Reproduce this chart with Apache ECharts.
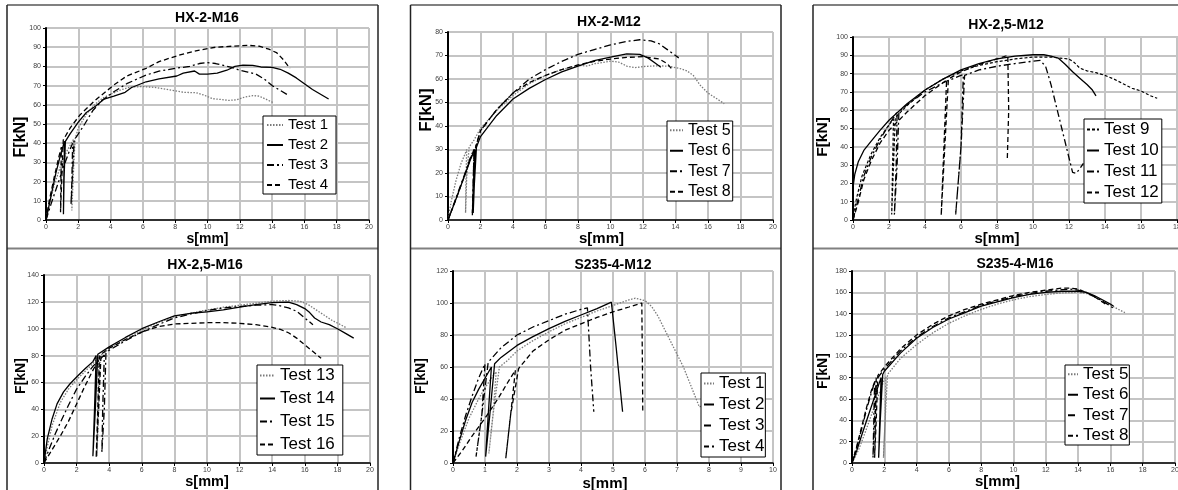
<!DOCTYPE html>
<html>
<head>
<meta charset="utf-8">
<title>Load-slip curves</title>
<script src="https://cdn.jsdelivr.net/npm/echarts@6/dist/echarts.min.js"></script>
<style>
  html, body { margin: 0; padding: 0; background: #fff; }
  #main { width: 1178px; height: 490px; }
</style>
</head>
<body>
<div id="main"></div>
<script>
// ---- data: [s (mm), F (kN)] ----
// HX-2-M16
var hx2m16_t1 = [[0,0],[0.2,8],[0.5,18],[0.9,28],[1.3,36],[1.7,42],[1.65,20],[1.6,5],[1.7,25],[1.8,42],[2,48],[2.5,55],[3,60],[3.5,63.5],[4,65.5],[4.6,67.7],[5.2,69.2],[6,69.5],[6.8,69],[7.5,68],[8,67.3],[8.5,66.5],[9.3,66.3],[9.8,65],[10.3,63.2],[10.8,62.8],[11.3,62.3],[11.8,62.6],[12.3,64],[12.8,64.8],[13.2,64.5],[13.6,63],[14.1,61]];
var hx2m16_t2 = [[0,0],[0.3,12],[0.6,24],[0.9,34],[1.15,41],[1.1,20],[1.08,3],[1.12,22],[1.2,41],[1.5,45],[2,51],[2.5,56],[3.1,59.5],[3.6,63],[4.2,64.5],[4.9,66.5],[5.3,69],[6.2,72],[7,73.5],[8.1,75],[8.5,76.5],[9.2,77.6],[9.5,76],[10,76],[10.6,76.5],[11.2,78],[11.7,80],[12.2,80.7],[12.8,80.5],[13.3,79.7],[14,79.5],[14.5,78.5],[15,76.5],[15.5,74],[16,71],[16.5,68],[17,65.5],[17.5,63]];
var hx2m16_t3 = [[0,0],[0.3,8],[0.7,18],[1.1,28],[1.45,36],[1.65,40],[1.6,20],[1.55,8],[1.65,25],[1.75,42],[1.9,43.5],[2.4,50],[2.9,57],[3.5,62.5],[4.2,66.8],[5,71],[6.2,75.5],[7,77.5],[8,79],[8.9,80],[9.5,81.5],[10,82],[10.5,81.5],[11,80.5],[11.5,79.5],[12,78],[12.5,77],[13,76],[13.5,73.5],[14,70],[14.5,67.5],[15,65]];
var hx2m16_t4 = [[0,0],[0.2,10],[0.5,22],[0.8,33],[0.95,38],[0.92,18],[0.9,4],[0.97,20],[1.07,41.7],[1.5,48],[2.1,54.7],[3,62],[4.2,70.3],[5,75],[6.2,79],[7,82.5],[8.3,86],[9.5,88.5],[10.5,90],[11.5,90.5],[12.5,91],[13.2,90.5],[13.8,89],[14.3,87],[14.7,83.5],[15.1,79]];
// HX-2-M12
var hx2m12_t5 = [[0,0],[0.2,8],[0.5,17],[0.8,24],[1.1,29],[1.15,30],[1.1,15],[1.08,3],[1.15,18],[1.3,31],[1.6,34],[2,39],[3,46.5],[4,53],[5,58],[6,61.5],[7,64],[8,65.8],[8.6,65.5],[9,66.5],[9.5,67],[10,67.6],[10.5,67.2],[11,65.5],[11.5,64.8],[12,65.3],[12.8,65.6],[13.5,65.5],[14.2,64.6],[14.7,63.5],[15.1,61.5],[15.5,57.5],[16,54],[16.5,51.8],[17,49.5]];
var hx2m12_t6 = [[0,0],[0.5,9],[1,18.5],[1.4,26],[1.65,30],[1.6,15],[1.55,3],[1.62,15],[1.75,31],[2,35.5],[3,44.5],[4,51.5],[5,56],[6,59.8],[7,63],[8,65.5],[9,67.8],[10,69.3],[11,70.7],[11.8,70.5],[12.3,69],[12.7,67],[13.1,65]];
var hx2m12_t7 = [[0,0],[0.5,9.5],[1,19],[1.4,27],[1.6,30],[1.55,15],[1.5,3],[1.57,15],[1.7,31],[2,38],[3,47],[4,54],[5,60],[6,64],[7,67.5],[8,70.5],[9,72.5],[10,74.5],[11,76],[11.8,76.7],[12.5,76.2],[13,75],[13.5,72.5],[14.2,69]];
var hx2m12_t8 = [[0,0],[0.5,9],[1,18.5],[1.4,26.5],[1.6,30],[1.55,15],[1.5,2],[1.56,15],[1.7,31],[2,38],[3,47],[4,54],[5,58.5],[6,61.5],[7,64],[8,66],[9,67.5],[10,68.5],[11,69.2],[12,69.5],[13,68.5],[13.5,66.5],[13.8,64]];
// HX-2,5-M12
var hx25m12_t9 = [[0,2],[0.2,12],[0.5,24],[1,36],[1.5,45],[2,52],[2.25,55],[2.2,30],[2.15,3],[2.25,30],[2.35,56],[3,62.5],[4,71],[5,77],[6,81.5],[7,84.5],[8,86.5],[9,88],[10,89],[11,89],[11.5,88.5],[12,88],[12.3,86],[12.6,83],[13,81.5],[13.5,80.5],[14,79],[14.5,77],[15,74.5],[15.5,72],[16,70.5],[16.5,68],[16.9,66.5]];
var hx25m12_t10 = [[0,18],[0.1,25],[0.3,32],[0.6,38],[1,43],[1.5,49],[2,54.5],[3,63.5],[4,71],[5,77],[6,82],[7,85.5],[8,88],[9,89.5],[10,90.3],[10.6,90.3],[11,89.5],[11.4,88.5],[11.8,85],[12.2,81],[12.6,77.5],[13,74],[13.3,71],[13.5,67.8]];
var hx25m12_t11 = [[0,0],[0.3,12],[0.6,24],[1,34],[1.5,44],[2,52],[2.45,59],[2.4,30],[2.3,3],[2.45,30],[2.55,59],[3,63],[4,70],[5,75],[6,79],[6.13,79.5],[6,40],[5.7,2.5],[6,40],[6.2,79],[7,82],[8,84],[9,85.5],[10,86.8],[10.4,87.2],[10.7,84],[11,74],[11.3,62],[11.6,50],[11.9,38],[12.2,26],[12.4,25.5],[12.6,28],[12.8,31]];
var hx25m12_t12 = [[0,0],[0.3,10],[0.6,22],[1,32],[1.5,42],[2,49],[3,59],[4,68],[5,75],[5.2,76.5],[5.05,40],[4.9,2.5],[5.1,40],[5.3,77],[6,81],[7,85],[8,88],[8.3,89],[8.6,90],[8.7,89.5],[8.65,60],[8.57,32.5]];
// HX-2,5-M16
var hx25m16_t13 = [[0,0],[0.2,12],[0.5,28],[1,45],[1.5,55],[2,62],[2.5,68],[3,74],[3.35,79],[3.3,40],[3.25,5],[3.35,40],[3.45,80],[4,85],[5,92],[6,99],[7,104.5],[8,109],[9,111.5],[10,114],[11,116],[12,117.5],[13,119],[14,120.5],[15,121],[15.7,120.5],[16.2,118],[16.7,114],[17.2,110],[17.7,106],[18.2,103],[18.5,101]];
var hx25m16_t14 = [[0,0],[0.2,18],[0.5,33],[0.8,44],[1.2,53],[1.6,59],[2,64],[2.5,70],[3,75.5],[3.2,80],[3.1,40],[3,5],[3.15,40],[3.3,81],[4,86.5],[5,93.5],[6,100],[7,105],[8,109.5],[9,111.5],[10,112.5],[11,114],[12,116],[13,118],[14,119.5],[15,119.8],[15.5,118],[16,115],[16.3,112],[16.6,108],[17,105],[17.5,103],[18,100],[18.5,96.5],[19,93]];
var hx25m16_t15 = [[0,0],[0.3,10],[0.7,22],[1,30],[1.5,43],[2,55],[2.5,64],[3,72],[3.5,78],[3.7,80.5],[3.6,40],[3.55,8],[3.7,40],[3.8,82],[4,84],[5,91],[6,97.5],[7,103],[8,108],[9,111],[10,113.5],[11,115.5],[12,116.5],[13,117.5],[14,118],[14.5,117],[15,115.5],[15.5,113],[16,108],[16.5,103]];
var hx25m16_t16 = [[0,0],[0.5,10],[1,20],[1.5,31],[2,44],[2.5,57],[3,69],[3.3,76],[3.4,80],[3.3,40],[3.2,4],[3.35,40],[3.5,81],[4,85.5],[5,92],[6,97.5],[7,101.5],[8,103.5],[9,104],[10,104.5],[11,104.5],[12,104],[13,103],[14,101],[14.5,99.5],[15,97],[15.5,93],[16,88],[16.5,83],[17,78]];
// S235-4-M12
var s235m12_t1 = [[0,0],[0.2,12],[0.5,28],[0.8,40],[1,47],[1.2,53],[1.35,57],[1.25,30],[1.12,6],[1.25,30],[1.45,60],[1.7,64],[2,70],[2.5,76.5],[3,82],[3.5,87],[4,91],[4.5,95],[5,98.5],[5.5,102],[5.7,103],[6,101.5],[6.2,98],[6.4,92],[6.6,84],[6.8,76],[7,68],[7.2,60],[7.4,50],[7.6,40],[7.7,35],[7.9,37]];
var s235m12_t2 = [[0,0],[0.2,14],[0.4,27],[0.6,38],[0.8,46],[1,53],[1.2,60],[1.1,30],[1.02,4],[1.15,30],[1.3,62],[1.5,66],[2,73.5],[2.5,79],[3,84],[3.5,88.5],[4,92.5],[4.5,96.5],[4.95,100.5],[5.1,72],[5.3,32]];
var s235m12_t3 = [[0,0],[0.2,16],[0.4,30],[0.6,42],[0.8,53],[1,62],[0.9,30],[0.72,4],[0.9,30],[1.1,63],[1.5,72],[2,80],[2.5,85],[3,89],[3.5,93],[4,96],[4.2,97],[4.3,60],[4.4,32]];
var s235m12_t4 = [[0,0],[0.3,8],[0.6,17],[1,28],[1.4,40],[1.7,50],[1.95,58],[1.8,30],[1.65,3],[1.8,30],[2.05,59],[2.5,70],[3,77],[3.5,83],[4,87],[4.5,91],[5,94.5],[5.5,97.5],[5.9,100],[5.92,60],[5.93,32]];
// S235-4-M16
var s235m16_t5 = [[0,0],[0.4,12],[0.8,28],[1.2,45],[1.6,62],[2,78],[2.1,81],[2.05,40],[1.95,5],[2.05,40],[2.2,83],[3,98],[4,111],[5,122],[6,131],[7,138],[8,144],[9,149],[10,153],[11,156],[12,158],[13,159.5],[14,160],[14.5,159],[15,156],[15.5,152],[16,148],[16.5,144],[16.9,141]];
var s235m16_t6 = [[0,0],[0.3,15],[0.6,32],[0.9,50],[1.2,66],[1.4,76],[1.35,40],[1.3,5],[1.4,40],[1.5,78],[2,88],[3,105],[4,118],[5,128],[6,136],[7,142],[8,148],[9,152],[10,156],[11,159],[12,161],[13,162.5],[13.5,163],[14,162],[14.5,160],[15,156],[15.5,152],[16,147],[16.2,145]];
var s235m16_t7 = [[0,0],[0.3,12],[0.6,26],[1,44],[1.4,62],[1.8,80],[1.72,40],[1.65,5],[1.75,40],[1.9,83],[2,86],[3,103],[4,117],[5,127],[6,135],[7,141],[8,147],[9,151],[10,155],[11,158],[12,160],[13,161],[14,161],[14.5,160],[15,157],[15.5,153],[16,149],[16.2,147]];
var s235m16_t8 = [[0,0],[0.3,16],[0.6,34],[0.9,52],[1.2,68],[1.5,80],[1.45,40],[1.4,5],[1.5,40],[1.6,82],[2,90],[3,107],[4,120],[5,130],[6,138],[7,144],[8,149],[9,153],[10,157],[11,160],[12,162],[13,164],[13.5,164],[14,163],[14.5,160],[15,156],[15.5,151],[15.8,148]];

// line looks
var styles = {
    dot:     { color: '#7a7a7a', width: 1.3, type: [1.5, 1.5] },
    solid:   { color: '#000', width: 1.3, type: 'solid' },
    dashdot: { color: '#000', width: 1.3, type: [7, 3, 2, 3] },
    dash:    { color: '#000', width: 1.3, type: [5, 3] },
    sdash:   { color: '#000', width: 1.2, type: [3, 2] }
};

// panel layout (pixels)
var panels = [
    { title: 'HX-2-M16', t: [207, 18], grid: [46, 28, 323, 192], x: [20, 2], y: [100, 10],
      yName: [16, 17, [0, 26, 0, 0]], xName: [14, 12, 0],
      leg: { left: 263, top: 116, fs: 15, lh: 18, gap: 2, iw: 16, pad: [0, 8, 0, 3] },
      series: [['Test 1', hx2m16_t1, 'dot'], ['Test 2', hx2m16_t2, 'solid'], ['Test 3', hx2m16_t3, 'dashdot'], ['Test 4', hx2m16_t4, 'dash']] },
    { title: 'HX-2-M12', t: [609, 22], grid: [448, 32, 325, 188], x: [20, 2], y: [80, 10],
      yName: [17, 13, [0, 0, 0, 32]], xName: [15, 11, 18],
      leg: { left: 667, top: 121, fs: 16, lh: 18.5, gap: 2, iw: 13, pad: [0, 2, 0, 2] },
      series: [['Test 5', hx2m12_t5, 'dot'], ['Test 6', hx2m12_t6, 'solid'], ['Test 7', hx2m12_t7, 'dashdot'], ['Test 8', hx2m12_t8, 'dash']] },
    { title: 'HX-2,5-M12', t: [1006, 25], grid: [853, 37, 360, 183], x: [20, 2], y: [100, 10],
      yName: [15.5, 22, [0, 17, 0, 0]], xName: [15, 11, 72],
      leg: { left: 1084, top: 119, fs: 17, lh: 19, gap: 2, iw: 12, pad: [1, 3, 1, 2] },
      series: [['Test 9', hx25m12_t9, 'sdash'], ['Test 10', hx25m12_t10, 'solid'], ['Test 11', hx25m12_t11, 'dashdot'], ['Test 12', hx25m12_t12, 'dash']] },
    { title: 'HX-2,5-M16', t: [205, 265], grid: [44, 275, 326, 188], x: [20, 2], y: [140, 20],
      yName: [14, 16, [0, 14, 0, 0]], xName: [14.5, 11, 0],
      leg: { left: 257, top: 365, fs: 17, lh: 21, gap: 2, iw: 15, pad: [0, 8, 0, 2] },
      series: [['Test 13', hx25m16_t13, 'dot'], ['Test 14', hx25m16_t14, 'solid'], ['Test 15', hx25m16_t15, 'dashdot'], ['Test 16', hx25m16_t16, 'dash']] },
    { title: 'S235-4-M12', t: [613, 265], grid: [453, 271, 320, 192], x: [10, 1], y: [120, 20],
      yName: [14, 25, [0, 18, 0, 0]], xName: [15, 13, 16],
      leg: { left: 701, top: 373, fs: 17, lh: 19, gap: 2, iw: 10, pad: [1, 1, 1, 2] },
      series: [['Test 1', s235m12_t1, 'dot'], ['Test 2', s235m12_t2, 'solid'], ['Test 3', s235m12_t3, 'dashdot'], ['Test 4', s235m12_t4, 'dash']] },
    { title: 'S235-4-M16', t: [1015, 264], grid: [852, 271, 323, 192], x: [20, 2], y: [180, 20],
      yName: [14, 22, [0, 8, 0, 0]], xName: [15, 11, 32],
      leg: { left: 1065, top: 365, fs: 17, lh: 18.5, gap: 2, iw: 10, pad: [0, 1, 0, 2] },
      series: [['Test 5', s235m16_t5, 'dot'], ['Test 6', s235m16_t6, 'dashdot'], ['Test 7', s235m16_t7, 'solid'], ['Test 8', s235m16_t8, 'dash']] }
];

var FONT = 'Liberation Sans';
var option = {
    animation: false,
    backgroundColor: '#fff',
    title: [], grid: [], xAxis: [], yAxis: [], legend: [], series: [], graphic: []
};

panels.forEach(function (p, i) {
    option.title.push({
        text: p.title, left: p.t[0], top: p.t[1], textAlign: 'center', textVerticalAlign: 'middle', padding: 0,
        textStyle: { fontSize: 14, fontWeight: 'bold', color: '#000', fontFamily: FONT }
    });
    option.grid.push({
        left: p.grid[0], top: p.grid[1], width: p.grid[2], height: p.grid[3],
        containLabel: false, outerBoundsMode: 'none',
        show: true, borderColor: '#000', borderWidth: 1, backgroundColor: '#fff'
    });
    option.xAxis.push({
        gridIndex: i, type: 'value', min: 0, max: p.x[0], interval: p.x[1],
        axisLine: { show: true, onZero: false, lineStyle: { color: '#000', width: 1.5 } },
        axisTick: { show: true, length: 3, lineStyle: { color: '#000' } },
        axisLabel: { fontSize: 7, color: '#404040', margin: 4, fontFamily: FONT },
        splitLine: { show: true, lineStyle: { color: '#c4c4c4', width: 2 } },
        name: 's[mm]', nameLocation: 'middle', nameGap: p.xName[1], nameMoveOverlap: false,
        nameTextStyle: { fontSize: p.xName[0], fontWeight: 'bold', color: '#000', fontFamily: FONT,
                         padding: [0, p.xName[2], 0, 0] }
    });
    option.yAxis.push({
        gridIndex: i, type: 'value', min: 0, max: p.y[0], interval: p.y[1],
        axisLine: { show: true, onZero: false, lineStyle: { color: '#000', width: 2 } },
        axisTick: { show: true, length: 3, lineStyle: { color: '#000' } },
        axisLabel: { fontSize: 7, color: '#404040', margin: 5, fontFamily: FONT },
        splitLine: { show: true, lineStyle: { color: '#c4c4c4', width: 2 } },
        name: 'F[kN]', nameLocation: 'middle', nameGap: p.yName[1], nameMoveOverlap: false,
        nameTextStyle: { fontSize: p.yName[0], fontWeight: 'bold', color: '#000', fontFamily: FONT,
                         padding: p.yName[2] }
    });
    option.legend.push({
        orient: 'vertical', left: p.leg.left, top: p.leg.top,
        data: p.series.map(function (s) { return s[0]; }),
        itemWidth: p.leg.iw, itemHeight: 10, itemGap: p.leg.gap, padding: p.leg.pad,
        itemStyle: { opacity: 0 },
        backgroundColor: '#fff', borderColor: '#000', borderWidth: 1, borderRadius: 0,
        selectedMode: false,
        textStyle: { fontSize: p.leg.fs, lineHeight: p.leg.lh, color: '#000', fontFamily: FONT }
    });
    p.series.forEach(function (s) {
        option.series.push({
            type: 'line', name: s[0], xAxisIndex: i, yAxisIndex: i,
            data: s[1], symbol: 'none', showSymbol: false,
            lineStyle: styles[s[2]], itemStyle: { color: styles[s[2]].color },
            emphasis: { disabled: true }
        });
    });
});

// frames around the pasted pictures
var cols = [[7, 378], [410.5, 781], [813, 1190]];
cols.forEach(function (c) {
    [5, 248.5].forEach(function (y) {
        option.graphic.push({ type: 'line', silent: true, z: 100,
            shape: { x1: c[0], y1: y, x2: c[1], y2: y },
            style: { stroke: '#808080', lineWidth: 2 } });
    });
    c.forEach(function (x) {
        option.graphic.push({ type: 'line', silent: true, z: 100,
            shape: { x1: x, y1: 5, x2: x, y2: 490 },
            style: { stroke: '#222', lineWidth: 1.5 } });
    });
});

var chart = echarts.init(document.getElementById('main'), null, { renderer: 'canvas' });
chart.setOption(option);
</script>
</body>
</html>
